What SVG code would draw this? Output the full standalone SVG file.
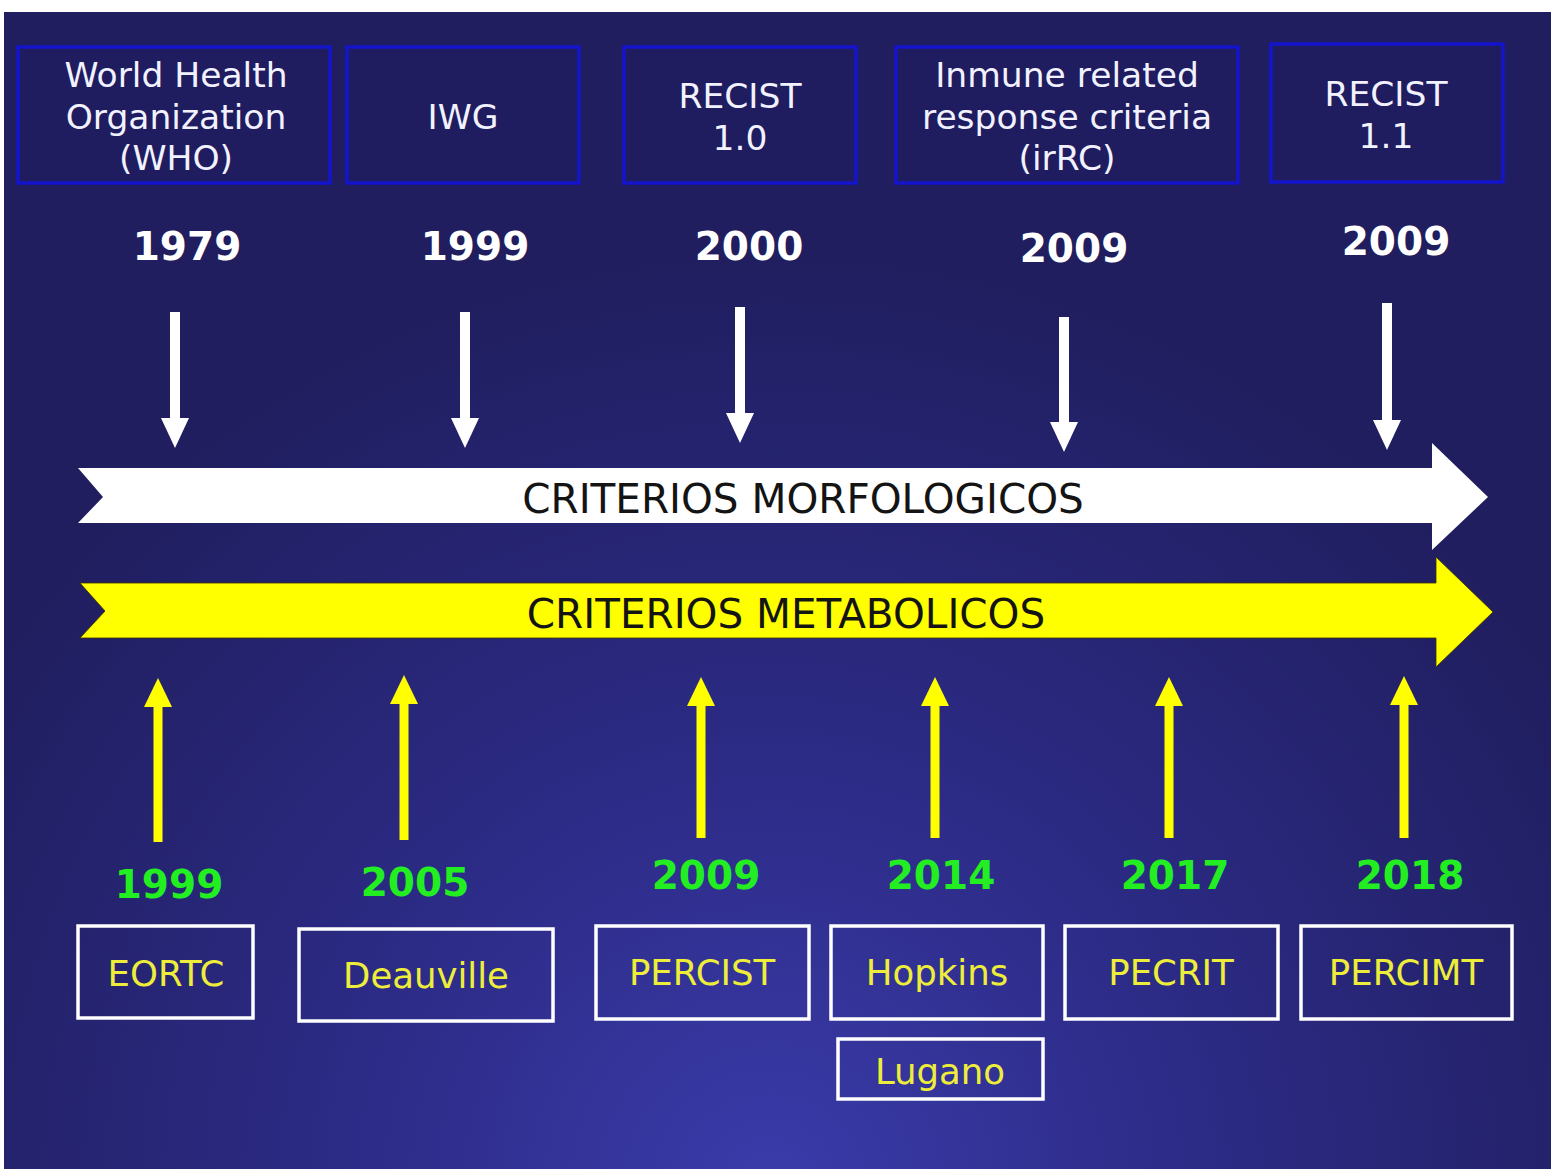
<svg xmlns="http://www.w3.org/2000/svg" width="1551" height="1169" viewBox="0 0 1551 1169">
  <defs>
    <radialGradient id="bg" gradientUnits="userSpaceOnUse" cx="770" cy="1190" r="950">
      <stop offset="0" stop-color="#3b3bab"/>
      <stop offset="0.45" stop-color="#2c2b86"/>
      <stop offset="1" stop-color="#201e5e"/>
    </radialGradient>
    <marker id="hw" markerUnits="userSpaceOnUse" markerWidth="32" markerHeight="30" refX="2" refY="14" orient="auto">
      <path d="M0,0 L30,14 L0,28 z" fill="#ffffff"/>
    </marker>
    <marker id="hy" markerUnits="userSpaceOnUse" markerWidth="32" markerHeight="30" refX="2" refY="14" orient="auto">
      <path d="M0,0 L29,14 L0,28 z" fill="#ffff00"/>
    </marker>
    <style>
      .tbox { fill: #1f1d5f; stroke: #1414cc; stroke-width: 3.5; }
      .bbox { fill: none; stroke: #ffffff; stroke-width: 3.5; }
      .ttxt { font-family: "DejaVu Sans", Verdana, sans-serif; font-size: 34.5px; fill: #f2f2ff; text-anchor: middle; }
      .yw { font-family: "DejaVu Sans", Verdana, sans-serif; font-weight: bold; font-size: 39px; fill: #ffffff; text-anchor: middle; }
      .yg { font-family: "DejaVu Sans", Verdana, sans-serif; font-weight: bold; font-size: 39px; fill: #22ee22; text-anchor: middle; }
      .btxt { font-family: "DejaVu Sans", Verdana, sans-serif; font-size: 35.5px; fill: #eeee3a; text-anchor: middle; }
      .band { font-family: "DejaVu Sans", Verdana, sans-serif; font-size: 40.5px; fill: #141414; text-anchor: middle; }
      .dw { stroke: #ffffff; stroke-width: 10; marker-end: url(#hw); }
      .uy { stroke: #ffff00; stroke-width: 9; marker-end: url(#hy); }
    </style>
  </defs>

  <rect x="0" y="0" width="1551" height="1169" fill="#ffffff"/>
  <rect x="4" y="12" width="1547" height="1157" fill="url(#bg)"/>

  <!-- top boxes -->
  <g id="who">
    <rect class="tbox" x="18" y="47" width="312" height="136"/>
    <text class="ttxt" x="176" y="87">World Health</text>
    <text class="ttxt" x="176" y="129">Organization</text>
    <text class="ttxt" x="176" y="170">(WHO)</text>
  </g>
  <g id="iwg">
    <rect class="tbox" x="347" y="47" width="232" height="136"/>
    <text class="ttxt" x="463" y="129">IWG</text>
  </g>
  <g id="recist10">
    <rect class="tbox" x="624" y="47" width="232" height="136"/>
    <text class="ttxt" x="740" y="108">RECIST</text>
    <text class="ttxt" x="740" y="150">1.0</text>
  </g>
  <g id="irrc">
    <rect class="tbox" x="896" y="47" width="342" height="136"/>
    <text class="ttxt" x="1067" y="87">Inmune related</text>
    <text class="ttxt" x="1067" y="129">response criteria</text>
    <text class="ttxt" x="1067" y="170">(irRC)</text>
  </g>
  <g id="recist11">
    <rect class="tbox" x="1271" y="44" width="232" height="138"/>
    <text class="ttxt" x="1386" y="106">RECIST</text>
    <text class="ttxt" x="1386" y="148">1.1</text>
  </g>

  <!-- top years -->
  <g id="years-top">
    <text class="yw" x="187" y="260">1979</text>
    <text class="yw" x="475" y="260">1999</text>
    <text class="yw" x="749" y="260">2000</text>
    <text class="yw" x="1074" y="262">2009</text>
    <text class="yw" x="1396" y="255">2009</text>
  </g>

  <!-- timeline bands -->
  <g id="morfologicos">
    <polygon points="78,468 1432,468 1432,443 1488,497 1432,550 1432,523 78,523 103,497" fill="#ffffff"/>
    <text class="band" x="803" y="513">CRITERIOS MORFOLOGICOS</text>
  </g>
  <g id="metabolicos">
    <polygon points="80,583 1436,583 1436,557 1493,612 1436,667 1436,638 80,638 105,611" fill="#ffff00" stroke="#3a3000" stroke-width="0.8"/>
    <text class="band" x="786" y="628">CRITERIOS METABOLICOS</text>
  </g>

  <!-- connectors -->
  <g id="connectors">
    <line class="dw" x1="175" y1="312" x2="175" y2="420"/>
    <line class="dw" x1="465" y1="312" x2="465" y2="420"/>
    <line class="dw" x1="740" y1="307" x2="740" y2="415"/>
    <line class="dw" x1="1064" y1="317" x2="1064" y2="424"/>
    <line class="dw" x1="1387" y1="303" x2="1387" y2="422"/>

    <line class="uy" x1="158" y1="842" x2="158" y2="705"/>
    <line class="uy" x1="404" y1="840" x2="404" y2="702"/>
    <line class="uy" x1="701" y1="838" x2="701" y2="704"/>
    <line class="uy" x1="935" y1="838" x2="935" y2="704"/>
    <line class="uy" x1="1169" y1="838" x2="1169" y2="704"/>
    <line class="uy" x1="1404" y1="838" x2="1404" y2="703"/>
  </g>

  <!-- bottom years -->
  <g id="years-bottom">
    <text class="yg" x="169" y="898">1999</text>
    <text class="yg" x="415" y="896">2005</text>
    <text class="yg" x="706" y="889">2009</text>
    <text class="yg" x="941" y="889">2014</text>
    <text class="yg" x="1175" y="889">2017</text>
    <text class="yg" x="1410" y="889">2018</text>
  </g>

  <!-- bottom boxes -->
  <g id="eortc">
    <rect class="bbox" x="78" y="926" width="175" height="92"/>
    <text class="btxt" x="166" y="986">EORTC</text>
  </g>
  <g id="deauville">
    <rect class="bbox" x="299" y="929" width="254" height="92"/>
    <text class="btxt" x="426" y="988">Deauville</text>
  </g>
  <g id="percist">
    <rect class="bbox" x="596" y="926" width="213" height="93"/>
    <text class="btxt" x="702" y="985">PERCIST</text>
  </g>
  <g id="hopkins">
    <rect class="bbox" x="831" y="926" width="212" height="93"/>
    <text class="btxt" x="937" y="985">Hopkins</text>
  </g>
  <g id="pecrit">
    <rect class="bbox" x="1065" y="926" width="213" height="93"/>
    <text class="btxt" x="1171" y="985">PECRIT</text>
  </g>
  <g id="percimt">
    <rect class="bbox" x="1301" y="926" width="211" height="93"/>
    <text class="btxt" x="1406" y="985">PERCIMT</text>
  </g>
  <g id="lugano">
    <rect class="bbox" x="838" y="1039" width="205" height="60"/>
    <text class="btxt" x="940" y="1084">Lugano</text>
  </g>
</svg>
